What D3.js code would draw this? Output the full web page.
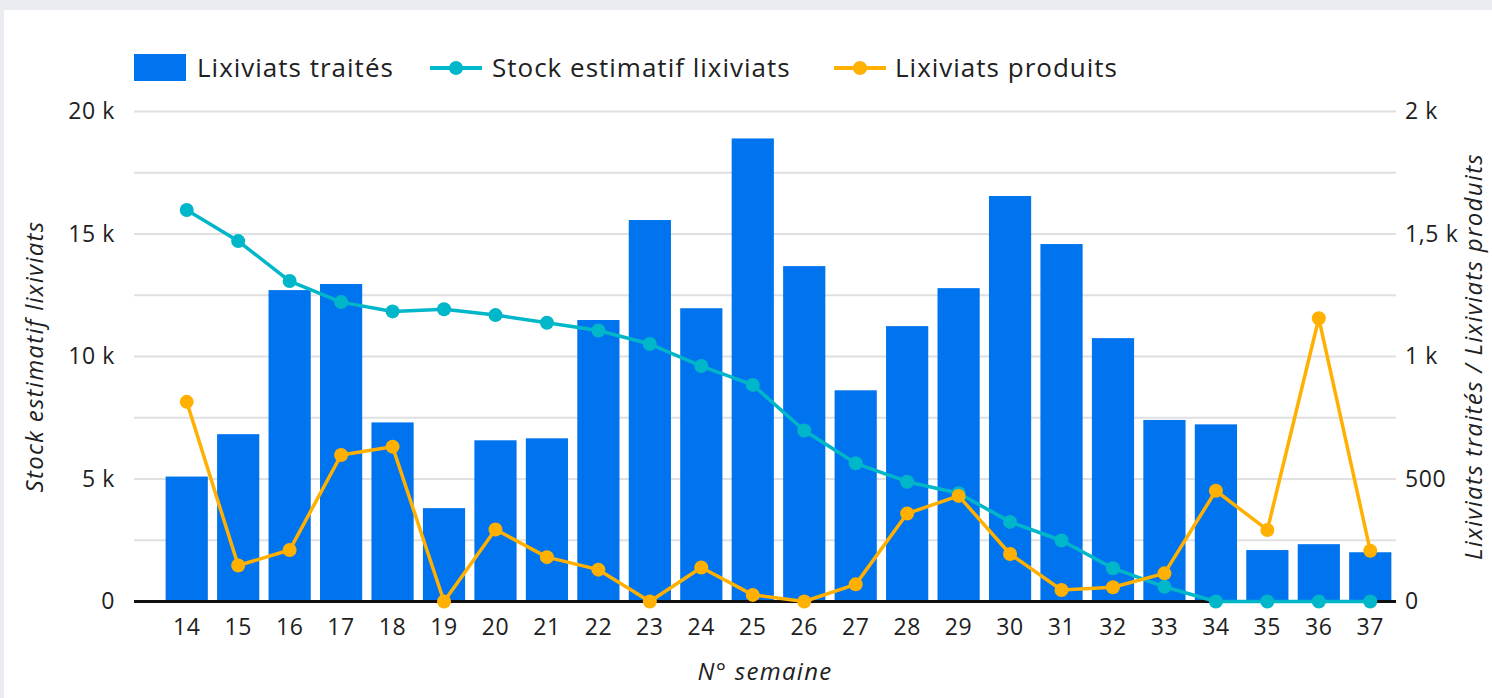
<!DOCTYPE html>
<html>
<head>
<meta charset="utf-8">
<script src="https://cdn.jsdelivr.net/npm/d3@7"></script>
<style>
  body { margin: 0; background: #e9edf1; }
  text { font-family: "Open Sans", sans-serif; fill: #212121; }
</style>
</head>
<body>
<div class="chart"></div>
<script>
const weeks = ["14","15","16","17","18","19","20","21","22","23","24","25","26","27","28","29","30","31","32","33","34","35","36","37"]
// Lixiviats traités (right axis)
const traites = [510, 683, 1271, 1296, 731, 381, 658, 666, 1149, 1557, 1197, 1890, 1369, 862, 1124, 1279, 1655, 1459, 1075, 741, 723, 210, 234, 201]
// Stock estimatif lixiviats (left axis)
const stock = [15980, 14710, 13080, 12220, 11840, 11930, 11690, 11380, 11060, 10510, 9610, 8840, 6980, 5640, 4890, 4420, 3250, 2490, 1360, 600, 0, 0, 0, 0]
// Lixiviats produits (right axis)
const produits = [815, 147, 210, 598, 632, 0, 294, 181, 130, 0, 139, 27, 0, 70, 359, 431, 194, 47, 58, 115, 452, 292, 1156, 207]

const leftTicks = [0, 5000, 10000, 15000, 20000]
const leftTickLabels = ["0", "5 k", "10 k", "15 k", "20 k"]
const rightTicks = [0, 500, 1000, 1500, 2000]
const rightTickLabels = ["0", "500", "1 k", "1,5 k", "2 k"]
const gridValues = [0, 2500, 5000, 7500, 10000, 12500, 15000, 17500, 20000]

const series = ["Lixiviats traités", "Stock estimatif lixiviats", "Lixiviats produits"]
const colors = ["#0073ee", "#00b6c9", "#ffb000"]

const svgWidth = 1492
const svgHeight = 698
const plotLeft = 134
const plotRight = 1396
const plotTop = 111.5
const plotBottom = 601.5

const svg = d3.select(".chart").append("svg")
    .attr("width", svgWidth)
    .attr("height", svgHeight)
    .style("display", "block")

// white card
svg.append("rect")
    .attr("x", 4).attr("y", 10)
    .attr("width", svgWidth - 4).attr("height", svgHeight - 10)
    .attr("fill", "white")

const xScale = d3.scaleBand()
    .domain(weeks)
    .range([plotLeft + 27, plotRight])
    .paddingInner(0.18)
    .paddingOuter(0.09)

const yLeft = d3.scaleLinear().domain([0, 20000]).range([plotBottom, plotTop])
const yRight = d3.scaleLinear().domain([0, 2000]).range([plotBottom, plotTop])

// gridlines
svg.append("g")
    .selectAll("line")
    .data(gridValues)
    .join("line")
    .attr("x1", plotLeft).attr("x2", plotRight)
    .attr("y1", d => yLeft(d)).attr("y2", d => yLeft(d))
    .attr("stroke", "#e0e0e0")
    .attr("stroke-width", 2)

// bars
svg.append("g")
    .selectAll("rect")
    .data(traites)
    .join("rect")
    .attr("x", (d, i) => xScale(weeks[i]))
    .attr("y", d => yRight(d))
    .attr("width", xScale.bandwidth())
    .attr("height", d => yRight(0) - yRight(d))
    .attr("fill", colors[0])

// zero line
svg.append("line")
    .attr("x1", plotLeft).attr("x2", plotRight)
    .attr("y1", yLeft(0)).attr("y2", yLeft(0))
    .attr("stroke", "#111")
    .attr("stroke-width", 3)

const cx = i => xScale(weeks[i]) + xScale.bandwidth() / 2

function drawLine(values, scale, color) {
    const line = d3.line().x((d, i) => cx(i)).y(d => scale(d))
    const g = svg.append("g")
    g.append("path")
        .datum(values)
        .attr("d", line)
        .attr("fill", "none")
        .attr("stroke", color)
        .attr("stroke-width", 3.5)
        .attr("stroke-linejoin", "round")
    g.selectAll("circle")
        .data(values)
        .join("circle")
        .attr("cx", (d, i) => cx(i))
        .attr("cy", d => scale(d))
        .attr("r", 7)
        .attr("fill", color)
}

drawLine(stock, yLeft, colors[1])
drawLine(produits, yRight, colors[2])

// axes
const leftAxis = d3.axisLeft(yLeft)
    .tickValues(leftTicks)
    .tickFormat((d, i) => leftTickLabels[i])
    .tickSize(0)
    .tickPadding(19)
const gLeft = svg.append("g")
    .attr("transform", `translate(${plotLeft},0)`)
    .call(leftAxis)

const rightAxis = d3.axisRight(yRight)
    .tickValues(rightTicks)
    .tickFormat((d, i) => rightTickLabels[i])
    .tickSize(0)
    .tickPadding(9)
const gRight = svg.append("g")
    .attr("transform", `translate(${plotRight},0)`)
    .call(rightAxis)

const bottomAxis = d3.axisBottom(xScale).tickSize(0).tickPadding(17)
const gBottom = svg.append("g")
    .attr("transform", `translate(0,${plotBottom})`)
    .call(bottomAxis)

;[gLeft, gRight, gBottom].forEach(g => {
    g.select(".domain").remove()
    g.selectAll("text")
        .attr("font-family", "Open Sans")
        .attr("font-size", "23px")
        .attr("letter-spacing", "0.6px")
        .attr("fill", "#212121")
})

// axis titles
svg.append("text")
    .attr("transform", `translate(43,${(plotTop + plotBottom) / 2}) rotate(-90)`)
    .attr("text-anchor", "middle")
    .attr("font-size", "24px")
    .attr("letter-spacing", "1.3px")
    .attr("font-style", "italic")
    .text("Stock estimatif lixiviats")

svg.append("text")
    .attr("transform", `translate(1482,${(plotTop + plotBottom) / 2}) rotate(-90)`)
    .attr("text-anchor", "middle")
    .attr("font-size", "24px")
    .attr("letter-spacing", "1.3px")
    .attr("font-style", "italic")
    .text("Lixiviats traités / Lixiviats produits")

svg.append("text")
    .attr("x", 765).attr("y", 680)
    .attr("text-anchor", "middle")
    .attr("font-size", "24px")
    .attr("letter-spacing", "1.3px")
    .attr("font-style", "italic")
    .text("N° semaine")

// legend
const legend = svg.append("g")
legend.append("rect")
    .attr("x", 134).attr("y", 54)
    .attr("width", 52).attr("height", 27)
    .attr("fill", colors[0])
legend.append("text")
    .attr("x", 197).attr("y", 68).attr("dy", "0.35em")
    .attr("font-size", "26px")
    .attr("letter-spacing", "1px")
    .text(series[0])

const lineKeys = [{x: 430, tx: 492, i: 1}, {x: 834, tx: 895, i: 2}]
lineKeys.forEach(k => {
    legend.append("line")
        .attr("x1", k.x).attr("x2", k.x + 52)
        .attr("y1", 68).attr("y2", 68)
        .attr("stroke", colors[k.i])
        .attr("stroke-width", 4)
    legend.append("circle")
        .attr("cx", k.x + 26).attr("cy", 68).attr("r", 7)
        .attr("fill", colors[k.i])
    legend.append("text")
        .attr("x", k.tx).attr("y", 68).attr("dy", "0.35em")
        .attr("font-size", "26px")
        .attr("letter-spacing", "1px")
        .text(series[k.i])
})
</script>
</body>
</html>
